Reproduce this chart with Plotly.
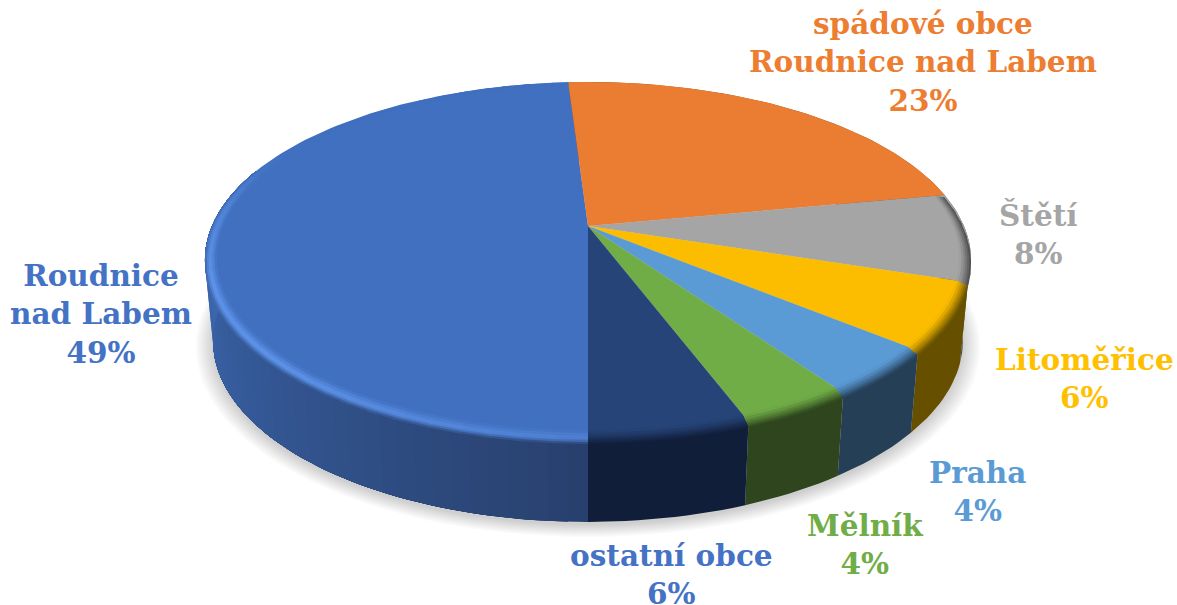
import math
import plotly.graph_objects as go

# ---- data ----
names = ["Roudnice<br>nad Labem", "spádové obce<br>Roudnice nad Labem", "Štětí", "Litoměřice", "Praha", "Mělník", "ostatní obce"]
shares = [49.0, 23.0, 8.0, 6.0, 4.3, 4.0, 5.7]
pct_labels = ["49%", "23%", "8%", "6%", "4%", "4%", "6%"]
face_colors = ["#4170C0", "#EA7D32", "#A5A5A5", "#FCBD00", "#5B9BD5", "#70AD47", "#264478"]
side_colors = ["#2F4F88", "#8A4A1C", "#4A4A4A", "#665000", "#253F57", "#2E451D", "#101E3A"]
text_colors = ["#4472C4", "#ED7D31", "#A5A5A5", "#FFC000", "#5B9BD5", "#70AD47", "#4472C4"]
label_x = [101, 923, 1038, 1084, 977, 865, 671]
label_y = [314, 62, 234, 378, 491, 544, 574]

# ---- projection of the tilted disc ----
CX, CY = 588.0, 226.0
A, B, K = 376.0, 171.5, 0.191
DEPTH_CY, DEPTH_A, DEPTH_B = 306.0, 368.0, 174.7
START = 180.0


def top(theta, r=1.0, dz=0.0):
    t = math.radians(theta)
    X, Y = r * math.sin(t), r * math.cos(t)
    w = 1 + K * Y
    return CX + A * X / w, CY - B * Y / w + dz


def bottom(theta, r=1.0, dy=0.0):
    t = math.radians(theta)
    X, Y = r * math.sin(t), r * math.cos(t)
    w = 1 + K * Y
    return CX + DEPTH_A * X / w, DEPTH_CY - DEPTH_B * Y / w + dy


def rgb(h):
    h = h.lstrip("#")
    return tuple(int(h[i:i + 2], 16) for i in (0, 2, 4))


def mix(a, b, f):
    a, b = (rgb(a) if isinstance(a, str) else a), (rgb(b) if isinstance(b, str) else b)
    return tuple(a[i] + (b[i] - a[i]) * f for i in range(3))


def css(c):
    return "rgb(%d,%d,%d)" % tuple(round(v) for v in c)


def steps(a, b, n):
    return [a + (b - a) * i / n for i in range(n + 1)]


def poly(pts, color, name=None):
    return go.Scatter(x=[p[0] for p in pts], y=[p[1] for p in pts], mode="lines", fill="toself",
                      fillcolor=color, line=dict(width=0),
                      hoverinfo="text" if name else "skip", text=name, showlegend=False)


total = sum(shares)
angles = [START]
for s in shares:
    angles.append(angles[-1] + s / total * 360.0)

fig = go.Figure()

# soft shadow
for i in range(12):
    sc = 1.045 - i * 0.004
    fig.add_trace(poly([bottom(a, sc, 3.0) for a in steps(0, 360, 180)], "rgba(0,0,0,0.014)"))


def blue_side(theta):
    f = min(1.0, abs(theta - 180.0) / 90.0)
    return mix("#283F6C", "#3C68B0", f ** 0.9)


def wall(a0, a1, color):
    grid = steps(a0, a1, max(2, int((a1 - a0) / 1.5)))
    return poly([top(a) for a in grid] + [bottom(a) for a in reversed(grid)], color)


# side wall: gradient of overlapping strips on the big slice, flat elsewhere
for idx in range(len(shares)):
    a0, a1 = angles[idx], angles[idx + 1]
    if idx == 0:
        for g in steps(180.0, 290.0, 44):
            fig.add_trace(wall(g, 290.0, css(blue_side(g + 1))))
    else:
        s0, s1 = (a0 - 360, a1 - 360) if a0 >= 360 else (a0, a1)
        if s1 > 70:
            fig.add_trace(wall(max(s0, 70), s1, side_colors[idx]))

# top faces
for idx, name in enumerate(names):
    a0, a1 = angles[idx], angles[idx + 1]
    arc = [top(a) for a in steps(a0, a1, max(4, int((a1 - a0) / 1.5)))]
    fig.add_trace(poly([(CX, CY)] + arc + [(CX, CY)], face_colors[idx],
                       name=name.replace("<br>", " ") + " " + pct_labels[idx]))


def bevel_point(theta, t):
    Y = math.cos(math.radians(theta))
    r = 0.97 + 0.03 * t
    return top(theta, r, 6.0 * t * (1 - Y) / 2)


def highlight(theta):
    th = theta % 360
    knots = [(180, 0.45), (200, 0.7), (225, 1.0), (255, 1.0), (275, 0.6), (290, 0.15), (305, 0.0), (360, 0.0)]
    for (p0, v0), (p1, v1) in zip(knots[:-1], knots[1:]):
        if p0 <= th <= p1:
            return v0 + (v1 - v0) * (th - p0) / (p1 - p0)
    return 0.0


# bevel bands around the face edge, painted so that each one overlaps the next
T = [0, 0.2, 0.4, 0.55, 0.7, 0.85, 1.0]
for idx in range(len(shares)):
    if idx == 1:
        continue
    a0, a1 = angles[idx], angles[idx + 1]
    n = max(1, int((a1 - a0) / 4))
    grid = steps(a0, a1, n)
    for g0, g1 in zip(grid[:-1], grid[1:]):
        mid = (g0 + g1) / 2
        g_end = min(a1, g1 + 1.5)
        fine = steps(g0, g_end, 4)
        for j in range(len(T) - 2, -1, -1):
            t0, t1 = T[j], T[j + 1]
            tm = (t0 + t1) / 2
            base = face_colors[idx]
            if idx == 0:
                h = highlight(mid)
                peak = mix(base, "#5F95EC", h)
                wall_vis = min(1.0, max(0.0, (285 - mid) / 26.0))
                end = mix(peak, blue_side(mid), wall_vis)
                if tm < 0.55:
                    col = mix(base, peak, tm / 0.55)
                else:
                    col = mix(peak, end, ((tm - 0.55) / 0.45) ** 1.5)
            else:
                col = mix(base, side_colors[idx], tm ** 1.3)
            outer = [bevel_point(a, t1) for a in fine]
            inner = [bevel_point(a, max(0.0, t0 - 0.06)) for a in reversed(fine)]
            fig.add_trace(poly(outer + inner, css(col)))

# labels
for i, name in enumerate(names):
    fig.add_annotation(x=label_x[i], y=label_y[i], text="<b>%s<br>%s</b>" % (name, pct_labels[i]),
                       showarrow=False, xanchor="center", yanchor="middle", align="center",
                       font=dict(family="DejaVu Serif", size=29.5, color=text_colors[i]))

fig.update_layout(width=1177, height=605, margin=dict(l=0, r=0, t=0, b=0),
                  paper_bgcolor="white", plot_bgcolor="white", showlegend=False,
                  xaxis=dict(range=[0, 1177], visible=False, fixedrange=True),
                  yaxis=dict(range=[605, 0], visible=False, fixedrange=True))
fig.write_html("out.html", config=dict(displayModeBar=False),
               post_script="document.body.style.margin='0';document.documentElement.style.overflow='hidden';")
